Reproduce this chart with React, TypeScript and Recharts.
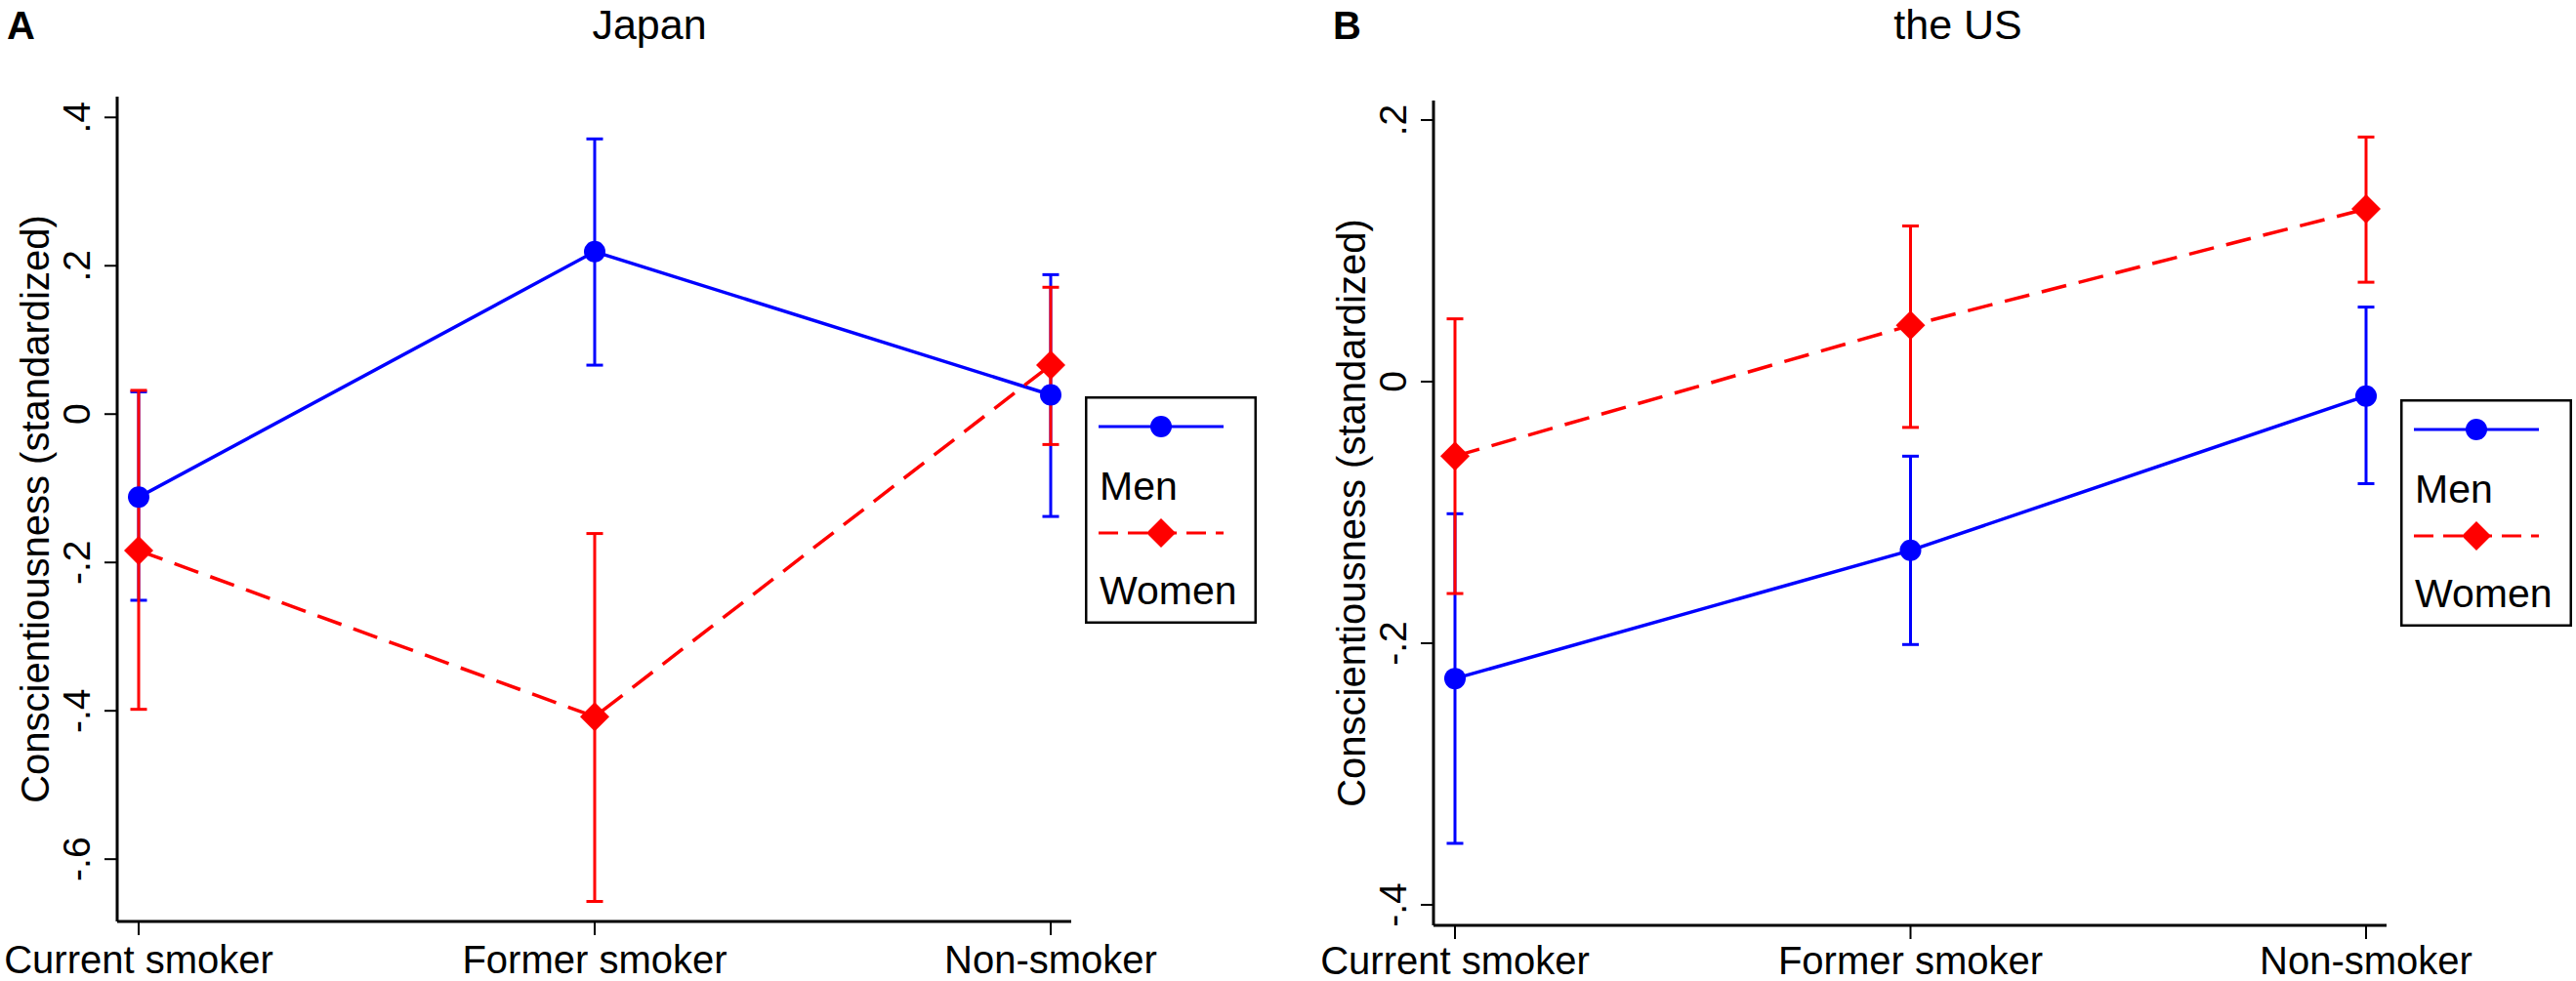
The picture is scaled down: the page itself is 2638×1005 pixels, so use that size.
import React from "react";
import { ErrorBar, Legend, Line, LineChart, XAxis, YAxis } from "recharts";

const categories = ["Current smoker", "Former smoker", "Non-smoker"];

// Japan
const jpMen = [-0.112, 0.219, 0.026];
const jpMenLo = [-0.251, 0.066, -0.138];
const jpMenHi = [0.03, 0.371, 0.188];
const jpWomen = [-0.184, -0.408, 0.066];
const jpWomenLo = [-0.398, -0.657, -0.041];
const jpWomenHi = [0.032, -0.161, 0.171];
const jpTicks = [-0.6, -0.4, -0.2, 0, 0.2, 0.4];

// the US
const usMen = [-0.227, -0.129, -0.011];
const usMenLo = [-0.353, -0.201, -0.078];
const usMenHi = [-0.101, -0.057, 0.057];
const usWomen = [-0.057, 0.043, 0.132];
const usWomenLo = [-0.162, -0.035, 0.076];
const usWomenHi = [0.048, 0.119, 0.187];
const usTicks = [-0.4, -0.2, 0, 0.2];

const seriesNames = ["Men", "Women"];
const yTitle = "Conscientiousness (standardized)";

const BLUE = "#0000ff";
const RED = "#ff0000";
const FONT = "'Liberation Sans', Arial, sans-serif";

const buildRows = (men, menLo, menHi, women, womenLo, womenHi) =>
  categories.map((cat, i) => ({
    cat,
    men: men[i],
    menErr: [men[i] - menLo[i], menHi[i] - men[i]],
    women: women[i],
    womenErr: [women[i] - womenLo[i], womenHi[i] - women[i]],
  }));

const fmt = (v: number) => {
  if (v === 0) return "0";
  const s = Math.abs(v).toString().replace(/^0/, "");
  return (v < 0 ? "-" : "") + s;
};

const YTick = (props: any) => {
  const { x, y, payload } = props;
  return (
    <text
      x={x}
      y={y}
      transform={`rotate(-90 ${x} ${y})`}
      textAnchor="middle"
      fontFamily={FONT}
      fontSize={39}
      fill="#000"
    >
      {fmt(payload.value)}
    </text>
  );
};

const XTick = (props: any) => {
  const { x, y, payload } = props;
  return (
    <text x={x} y={y} textAnchor="middle" fontFamily={FONT} fontSize={40} fill="#000">
      {payload.value}
    </text>
  );
};

const Diamond = (props: any) => {
  const { cx, cy } = props;
  if (cx == null || cy == null) return null;
  const h = 15;
  return (
    <path
      key={`d-${cx}`}
      d={`M${cx},${cy - h} L${cx + h},${cy} L${cx},${cy + h} L${cx - h},${cy} Z`}
      fill={RED}
      stroke="none"
    />
  );
};

const LegendBox = (props: any) => {
  const names = (props.payload || []).map((p: any) => p.value);
  const menName = names[0] || seriesNames[0];
  const womenName = names[1] || seriesNames[1];
  return (
    <svg width={176} height={233} style={{ display: "block" }}>
      <rect x={1.25} y={1.25} width={173.5} height={230.5} fill="#fff" stroke="#000" strokeWidth={2.5} />
      <line x1={14} x2={142} y1={31} y2={31} stroke={BLUE} strokeWidth={3} />
      <circle cx={78} cy={31} r={11} fill={BLUE} />
      <text x={15} y={106} fontFamily={FONT} fontSize={41} fill="#000">
        {menName}
      </text>
      <line x1={14} x2={142} y1={140} y2={140} stroke={RED} strokeWidth={3} strokeDasharray="20 10" />
      <Diamond cx={78} cy={140} />
      <text x={15} y={213} fontFamily={FONT} fontSize={41} fill="#000">
        {womenName}
      </text>
    </svg>
  );
};

function Panel({ left, width, top, bottom, plotRight, rows, domain, ticks, xTickMargin, legendPos }) {
  const height = 1005;
  const yAxisW = 120;
  const xAxisH = height - bottom;
  const yLabel = (p: any) => {
    const vb = p.viewBox || {};
    const cx = (vb.x ?? 0) + (vb.width ?? yAxisW) - 70;
    const cy = top + (bottom - top) / 2;
    return (
      <text
        x={cx}
        y={cy}
        transform={`rotate(-90 ${cx} ${cy})`}
        textAnchor="middle"
        fontFamily={FONT}
        fontSize={40}
        fill="#000"
      >
        {yTitle}
      </text>
    );
  };
  return (
    <div style={{ position: "absolute", left, top: 0 }}>
      <LineChart
        width={width}
        height={height}
        data={rows}
        margin={{ top, right: width - plotRight, bottom: 0, left: 0 }}
      >
        <XAxis
          dataKey="cat"
          height={xAxisH}
          padding={{ left: 22, right: 21 }}
          tickSize={14}
          tickMargin={xTickMargin}
          tick={<XTick />}
          axisLine={{ stroke: "#000", strokeWidth: 3 }}
          tickLine={{ stroke: "#000", strokeWidth: 2 }}
          interval={0}
        />
        <XAxis
          xAxisId="top"
          orientation="top"
          dataKey="cat"
          height={0}
          tick={false}
          tickLine={false}
          axisLine={{ stroke: "#000", strokeWidth: 2.5 }}
        />
        <YAxis
          type="number"
          width={yAxisW}
          domain={domain}
          ticks={ticks}
          allowDataOverflow
          tickSize={13}
          tickMargin={15}
          tick={<YTick />}
          axisLine={{ stroke: "#000", strokeWidth: 3 }}
          tickLine={{ stroke: "#000", strokeWidth: 2 }}
          label={yLabel}
        />
        <YAxis
          yAxisId="right"
          orientation="right"
          type="number"
          width={0}
          domain={domain}
          allowDataOverflow
          tick={false}
          tickLine={false}
          axisLine={{ stroke: "#000", strokeWidth: 2.5 }}
        />
        <Legend
          content={<LegendBox />}
          layout="horizontal"
          verticalAlign="middle"
          align="center"
          wrapperStyle={{ position: "absolute", left: legendPos[0], top: legendPos[1], width: 176, height: 233 }}
        />
        <Line
          name={seriesNames[0]}
          dataKey="men"
          type="linear"
          stroke={BLUE}
          strokeWidth={3.5}
          dot={{ r: 11, fill: BLUE, stroke: "none", strokeWidth: 0 }}
          activeDot={false}
          isAnimationActive={false}
        >
          <ErrorBar dataKey="menErr" direction="y" width={8.5} stroke={BLUE} strokeWidth={3} />
        </Line>
        <Line
          name={seriesNames[1]}
          dataKey="women"
          type="linear"
          stroke={RED}
          strokeWidth={3.5}
          strokeDasharray="26 13"
          dot={<Diamond />}
          activeDot={false}
          isAnimationActive={false}
        >
          <ErrorBar dataKey="womenErr" direction="y" width={8.5} stroke={RED} strokeWidth={3} />
        </Line>
      </LineChart>
    </div>
  );
}

export default function App() {
  const jpRows = buildRows(jpMen, jpMenLo, jpMenHi, jpWomen, jpWomenLo, jpWomenHi);
  const usRows = buildRows(usMen, usMenLo, usMenHi, usWomen, usWomenLo, usWomenHi);
  return (
    <div style={{ position: "relative", width: 2638, height: 1005, background: "#fff", overflow: "hidden" }}>
      <style>{`body{margin:0}`}</style>
      <svg width={2638} height={60} style={{ position: "absolute", left: 0, top: 0 }}>
        <text x={7} y={40} fontFamily={FONT} fontSize={40} fontWeight="bold" fill="#000">
          A
        </text>
        <text x={665} y={40} textAnchor="middle" fontFamily={FONT} fontSize={43} fill="#000">
          Japan
        </text>
        <text x={1365} y={40} fontFamily={FONT} fontSize={40} fontWeight="bold" fill="#000">
          B
        </text>
        <text x={2005} y={40} textAnchor="middle" fontFamily={FONT} fontSize={43} fill="#000">
          the US
        </text>
      </svg>
      <Panel
        left={0}
        width={1300}
        top={99}
        bottom={944}
        plotRight={1097}
        rows={jpRows}
        domain={[-0.684, 0.428]}
        ticks={jpTicks}
        xTickMargin={39}
        legendPos={[1111, 406]}
      />
      <Panel
        left={1348}
        width={1290}
        top={103}
        bottom={948}
        plotRight={1096}
        rows={usRows}
        domain={[-0.4157, 0.2149]}
        ticks={usTicks}
        xTickMargin={36}
        legendPos={[1110, 409]}
      />
    </div>
  );
}
